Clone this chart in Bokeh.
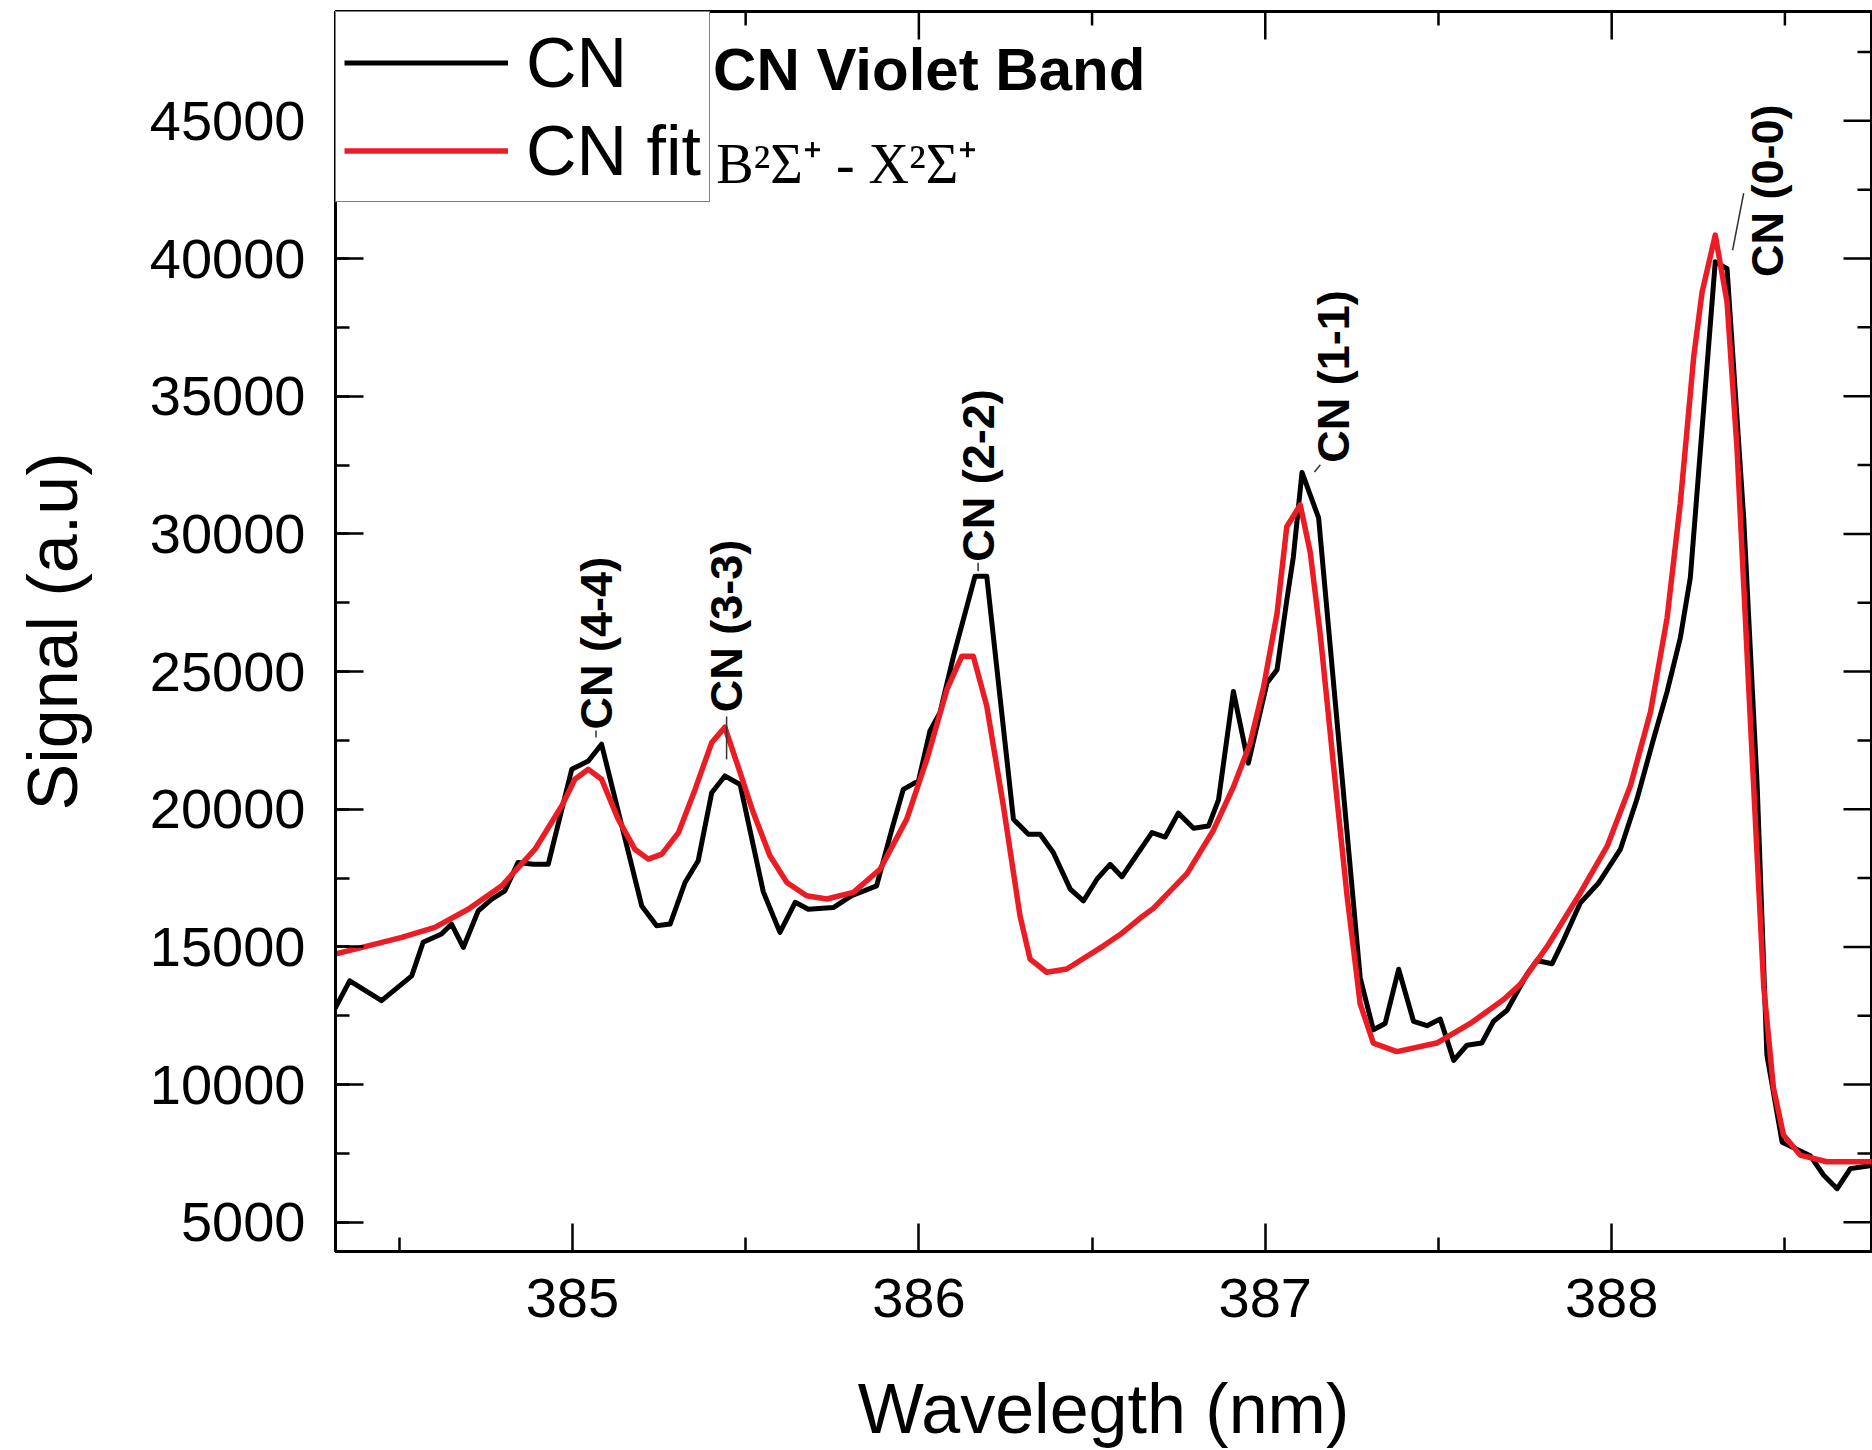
from math import pi

from bokeh.core.properties import value
from bokeh.embed import file_html
from bokeh.models import (ColumnDataSource, FixedTicker, Label, Legend,
                          LegendItem, Range1d)
from bokeh.plotting import figure
from bokeh.resources import INLINE

# Measured CN violet band emission spectrum
cn_wavelength = [
    384.314, 384.357, 384.449, 384.536, 384.569, 384.622, 384.651, 384.685, 384.728, 384.767,
    384.805, 384.843, 384.887, 384.930, 384.998, 385.046, 385.084, 385.200, 385.243, 385.282,
    385.325, 385.363, 385.402, 385.440, 385.484, 385.551, 385.599, 385.643, 385.681, 385.753,
    385.806, 385.878, 385.922, 385.955, 385.999, 386.032, 386.061, 386.100, 386.162, 386.196,
    386.273, 386.316, 386.350, 386.388, 386.437, 386.475, 386.514, 386.552, 386.586, 386.673,
    386.711, 386.749, 386.793, 386.836, 386.865, 386.908, 386.951, 387.005, 387.034, 387.062,
    387.081, 387.106, 387.154, 387.274, 387.312, 387.346, 387.385, 387.428, 387.467, 387.505,
    387.544, 387.582, 387.625, 387.659, 387.698, 387.756, 387.784, 387.828, 387.861, 387.909,
    387.962, 388.025, 388.073, 388.121, 388.160, 388.198, 388.227, 388.299, 388.333, 388.381,
    388.420, 388.448, 388.492, 388.573, 388.612, 388.651, 388.689, 388.753,
]
cn_signal = [
    12750, 13770, 13050, 13950, 15170, 15470, 15830, 14980, 16310, 16740,
    17040, 18070, 18000, 18000, 21450, 21750, 22360, 16490, 15770, 15830,
    17340, 18130, 20600, 21210, 20900, 17000, 15530, 16620, 16370, 16430,
    16860, 17220, 19270, 20720, 21030, 22840, 23510, 25560, 28460, 28460,
    19640, 19090, 19090, 18430, 17100, 16670, 17460, 18000, 17550, 19150,
    18990, 19860, 19310, 19390, 20340, 24280, 21670, 24590, 25070, 27580,
    29160, 32230, 30580, 13880, 11990, 12220, 14190, 12300, 12140, 12380,
    10880, 11430, 11510, 12300, 12700, 14020, 14510, 14390, 15250, 16590,
    17320, 18540, 20370, 22560, 24270, 26220, 28410, 39880, 39630, 30590,
    20840, 11080, 7910, 7420, 6710, 6220, 6950, 7070,
]

# Simulated (fitted) spectrum
fit_wavelength = [
    384.314, 384.410, 384.507, 384.603, 384.699, 384.796, 384.892, 384.969, 385.007, 385.046,
    385.084, 385.132, 385.180, 385.219, 385.258, 385.306, 385.354, 385.402, 385.440, 385.484,
    385.522, 385.570, 385.619, 385.676, 385.734, 385.811, 385.888, 385.965, 386.023, 386.081,
    386.124, 386.157, 386.196, 386.244, 386.292, 386.321, 386.369, 386.427, 386.533, 386.581,
    386.639, 386.677, 386.774, 386.850, 386.908, 386.956, 386.995, 387.034, 387.062, 387.101,
    387.130, 387.159, 387.197, 387.236, 387.274, 387.312, 387.380, 387.495, 387.592, 387.688,
    387.736, 387.813, 387.909, 387.987, 388.054, 388.112, 388.160, 388.198, 388.237, 388.261,
    388.299, 388.333, 388.362, 388.400, 388.439, 388.467, 388.496, 388.544, 388.621, 388.752,
]
fit_signal = [
    14740, 15040, 15350, 15710, 16370, 17220, 18550, 20120, 21090, 21450,
    21090, 19640, 18550, 18190, 18370, 19150, 20720, 22420, 22980, 21330,
    19880, 18310, 17340, 16860, 16740, 16980, 17820, 19640, 21810, 24350,
    25560, 25560, 23750, 20120, 16130, 14560, 14080, 14200, 15040, 15450,
    16050, 16400, 17660, 19230, 20810, 22380, 24430, 27110, 30260, 31050,
    29320, 26320, 21590, 16870, 12930, 11510, 11200, 11510, 12220, 13090,
    13640, 15000, 16950, 18660, 20850, 23530, 26950, 31100, 36460, 38780,
    40850, 38420, 33050, 23290, 13540, 9880, 8170, 7440, 7200, 7200,
]

# Vibrational band annotations (label anchor and short leader line)
band_names = ["CN (4-4)", "CN (3-3)", "CN (2-2)", "CN (1-1)", "CN (0-0)"]
band_label_x = [385.068, 385.445, 386.171, 387.196, 388.449]
band_label_y = [22900, 23520, 28990, 32580, 39330]
leader_x0 = [385.068, 385.445, 386.171, 387.159, 388.381]
leader_y0 = [22860, 23370, 28950, 32510, 42370]
leader_x1 = [385.068, 385.445, 386.171, 387.142, 388.349]
leader_y1 = [22610, 21810, 28640, 32250, 40300]

x_major = [385, 386, 387, 388]
x_minor = [384.5, 385.5, 386.5, 387.5, 388.5]
y_major = list(range(5000, 45001, 5000))
y_minor = list(range(2500, 48000, 2500))

X_START, X_END = 384.316, 388.75
Y_START, Y_END = 3940, 48970
FRAME_W, FRAME_H = 1536, 1242
MAJOR_LEN, MINOR_LEN = 28, 14

SANS = "Liberation Sans"

p = figure(
    width=1872, height=1450,
    x_range=Range1d(X_START, X_END), y_range=Range1d(Y_START, Y_END),
    output_backend="svg", toolbar_location=None,
    min_border_left=335, min_border_right=1, min_border_top=11, min_border_bottom=197,
    x_axis_label="Wavelegth (nm)", y_axis_label="Signal (a.u)",
)
p.grid.visible = False
p.outline_line_color = "black"
p.outline_line_width = 3
p.background_fill_color = "white"
p.border_fill_color = "white"


def style_axis(ax, major, minor):
    ax.ticker = FixedTicker(ticks=major, minor_ticks=minor)
    ax.axis_line_color = "black"
    ax.axis_line_width = 3
    ax.major_tick_in = MAJOR_LEN
    ax.major_tick_out = 0
    ax.minor_tick_in = MINOR_LEN
    ax.minor_tick_out = 0
    ax.major_tick_line_width = 2.5
    ax.minor_tick_line_width = 2.5
    ax.major_tick_line_color = "black"
    ax.minor_tick_line_color = "black"
    ax.major_label_text_font = SANS
    ax.major_label_text_font_size = "56px"
    ax.major_label_text_color = "black"
    ax.axis_label_text_font = SANS
    ax.axis_label_text_font_size = "70px"
    ax.axis_label_text_font_style = "normal"
    ax.axis_label_text_color = "black"


style_axis(p.xaxis[0], x_major, x_minor)
style_axis(p.yaxis[0], y_major, y_minor)
p.xaxis[0].major_label_standoff = 27
p.xaxis[0].axis_label_standoff = 50
p.yaxis[0].major_label_standoff = 30
p.yaxis[0].axis_label_standoff = 55

# inward ticks mirrored on the top and right frame edges
x_per_px = (X_END - X_START) / FRAME_W
y_per_px = (Y_END - Y_START) / FRAME_H
top_x = x_major + x_minor
top_len = [MAJOR_LEN] * len(x_major) + [MINOR_LEN] * len(x_minor)
p.segment(x0=top_x, y0=[Y_END] * len(top_x), x1=top_x,
          y1=[Y_END - n * y_per_px for n in top_len],
          line_color="black", line_width=2.5)
right_y = y_major + [v for v in y_minor if v not in y_major]
right_len = [MAJOR_LEN] * len(y_major) + [MINOR_LEN] * (len(right_y) - len(y_major))
p.segment(x0=[X_END] * len(right_y), y0=right_y,
          x1=[X_END - n * x_per_px for n in right_len], y1=right_y,
          line_color="black", line_width=2.5)

cn_src = ColumnDataSource(dict(x=cn_wavelength, y=cn_signal))
fit_src = ColumnDataSource(dict(x=fit_wavelength, y=fit_signal))

cn_line = p.line("x", "y", source=cn_src, line_color="black", line_width=5,
                 line_join="round")
fit_line = p.line("x", "y", source=fit_src, line_color="#ec1c24", line_width=5.5,
                  line_join="round")

# peak leader lines and rotated band labels
p.segment(x0=leader_x0, y0=leader_y0, x1=leader_x1, y1=leader_y1,
          line_color="#333333", line_width=1.5)
band_src = ColumnDataSource(dict(x=band_label_x, y=band_label_y, name=band_names))
p.text("x", "y", text="name", source=band_src, angle=pi / 2,
       text_align="left", text_baseline="middle",
       text_font=value(SANS), text_font_style="bold", text_font_size="45px",
       text_color="black")

p.add_layout(Label(x=385.406, y=46870, text="CN Violet Band",
                   text_font=SANS, text_font_style="bold", text_font_size="60px",
                   text_align="left", text_baseline="alphabetic", text_color="black"))
p.add_layout(Label(x=385.415, y=43450, text="B\u00b2\u03a3\u207a - X\u00b2\u03a3\u207a",
                   text_font="Liberation Serif", text_font_size="56px",
                   text_align="left", text_baseline="alphabetic", text_color="black"))

legend = Legend(
    items=[LegendItem(label="CN", renderers=[cn_line]),
           LegendItem(label="CN fit", renderers=[fit_line])],
    location="top_left", margin=0, padding=8, spacing=3,
    glyph_width=164, glyph_height=85, label_height=85, label_standoff=18,
    label_text_font=SANS, label_text_font_size="70px", label_text_color="black",
    border_line_color="black", border_line_width=1.5,
    background_fill_color="white", background_fill_alpha=1.0,
)
p.add_layout(legend)

open("out.html", "w").write(file_html(p, INLINE))
